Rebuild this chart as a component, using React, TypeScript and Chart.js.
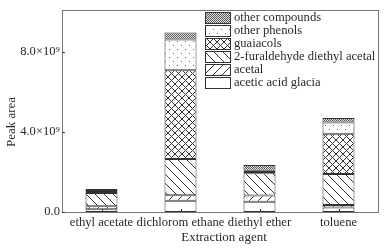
import React, { useEffect, useRef } from "react";
import { Chart, registerables } from "chart.js";

Chart.register(...registerables);

const categories = ["ethyl acetate", "dichlorom ethane", "diethyl ether", "toluene"];
const seriesNames = [
  "acetic acid glacia",
  "acetal",
  "2-furaldehyde diethyl acetal",
  "guaiacols",
  "other phenols",
  "other compounds",
];
// values in units of 1e9 peak area
const aceticAcid = [0.14, 0.56, 0.51, 0.23];
const acetal = [0.15, 0.28, 0.31, 0.12];
const furaldehyde = [0.66, 1.8, 1.11, 1.54];
const guaiacols = [0.05, 4.43, 0.06, 2.01];
const otherPhenols = [0.05, 1.54, 0.07, 0.57];
const otherCompounds = [0.1, 0.35, 0.29, 0.22];
const yTicks = [0, 4, 8];
const yMax = 10.1;

const FONT = "'Liberation Serif', 'Times New Roman', serif";
const INK = "#2a2a2a";

function makePattern(kind: string): CanvasPattern | string {
  const c = document.createElement("canvas");
  const ctx = c.getContext("2d")!;
  if (kind === "plain") return "#ffffff";
  if (kind === "fwd" || kind === "back" || kind === "cross") {
    const s = kind === "cross" ? 7 : 9;
    c.width = s;
    c.height = s;
    ctx.fillStyle = "#fff";
    ctx.fillRect(0, 0, s, s);
    ctx.strokeStyle = "#333";
    ctx.lineWidth = 1;
    const drawFwd = () => {
      ctx.beginPath();
      ctx.moveTo(-1, s + 1);
      ctx.lineTo(s + 1, -1);
      ctx.moveTo(-1, 1);
      ctx.lineTo(1, -1);
      ctx.moveTo(s - 1, s + 1);
      ctx.lineTo(s + 1, s - 1);
      ctx.stroke();
    };
    const drawBack = () => {
      ctx.beginPath();
      ctx.moveTo(-1, -1);
      ctx.lineTo(s + 1, s + 1);
      ctx.moveTo(s - 1, -1);
      ctx.lineTo(s + 1, 1);
      ctx.moveTo(-1, s - 1);
      ctx.lineTo(1, s + 1);
      ctx.stroke();
    };
    if (kind === "fwd" || kind === "cross") drawFwd();
    if (kind === "back" || kind === "cross") drawBack();
  } else if (kind === "dots") {
    c.width = 8;
    c.height = 8;
    ctx.fillStyle = "#fff";
    ctx.fillRect(0, 0, 8, 8);
    ctx.fillStyle = "#666";
    ctx.fillRect(1, 1, 1, 1);
    ctx.fillRect(5, 5, 1, 1);
  } else if (kind === "dense") {
    c.width = 2;
    c.height = 2;
    ctx.fillStyle = "#e4e4e4";
    ctx.fillRect(0, 0, 2, 2);
    ctx.fillStyle = "#555";
    ctx.fillRect(0, 0, 1, 1);
    ctx.fillRect(1, 1, 1, 1);
  }
  return ctx.createPattern(c, "repeat")!;
}

export default function App() {
  const ref = useRef<HTMLCanvasElement>(null);

  useEffect(() => {
    const kinds = ["plain", "fwd", "back", "cross", "dots", "dense"];
    const patterns = kinds.map(makePattern);
    const values = [aceticAcid, acetal, furaldehyde, guaiacols, otherPhenols, otherCompounds];

    const framePlugin = {
      id: "framePlugin",
      afterDatasetsDraw(chart: any) {
        const { ctx, chartArea } = chart;
        const { left, right, top, bottom } = chartArea;
        const xs = chart.scales.x;
        const ys = chart.scales.y;
        ctx.save();
        ctx.strokeStyle = "#777";
        ctx.lineWidth = 1;
        ctx.strokeRect(Math.round(left) + 0.5, Math.round(top) + 0.5, Math.round(right - left), Math.round(bottom - top));
        ctx.strokeStyle = "#333";
        ctx.beginPath();
        yTicks.forEach((t) => {
          const y = Math.round(ys.getPixelForValue(t)) + 0.5;
          ctx.moveTo(left, y);
          ctx.lineTo(left + 3, y);
        });
        categories.forEach((_, i) => {
          const x = Math.round(xs.getPixelForValue(i)) + 0.5;
          ctx.moveTo(x, bottom);
          ctx.lineTo(x, bottom - 3);
        });
        ctx.stroke();

        // axis titles
        ctx.fillStyle = INK;
        ctx.font = `13px ${FONT}`;
        ctx.textAlign = "center";
        ctx.textBaseline = "middle";
        ctx.fillText("Extraction agent", (left + right) / 2 + 4, 238);
        ctx.save();
        ctx.translate(12, 122);
        ctx.rotate(-Math.PI / 2);
        ctx.fillText("Peak area", 0, 0);
        ctx.restore();

        // legend
        ctx.font = `12.6px ${FONT}`;
        ctx.textAlign = "left";
        const order = [5, 4, 3, 2, 1, 0];
        order.forEach((di, row) => {
          const y = 12 + row * 13;
          ctx.fillStyle = patterns[di] as any;
          ctx.fillRect(205, y, 25, 11);
          ctx.strokeStyle = "#333";
          ctx.strokeRect(205.5, y + 0.5, 25, 11);
          ctx.fillStyle = INK;
          ctx.fillText(seriesNames[di], 234, y + 6);
        });
        ctx.restore();
      },
    };

    const chart = new Chart(ref.current!, {
      type: "bar",
      data: {
        labels: categories,
        datasets: values.map((v, i) => ({
          label: seriesNames[i],
          data: v,
          backgroundColor: patterns[i] as any,
          borderColor: "#333",
          borderWidth: 1,
          borderSkipped: false,
          categoryPercentage: 1,
          barPercentage: 0.405,
        })),
      },
      options: {
        animation: false,
        responsive: true,
        maintainAspectRatio: false,
        layout: { padding: { top: 3, right: 8, bottom: 0, left: 0 } },
        plugins: { legend: { display: false }, tooltip: { enabled: false } },
        scales: {
          x: {
            stacked: true,
            grid: { display: false, drawTicks: false },
            border: { display: false },
            ticks: {
              color: INK,
              font: { family: FONT, size: 12.6 },
              padding: 3,
              minRotation: 0,
              maxRotation: 0,
              autoSkip: false,
            },
            afterFit: (s: any) => {
              s.height = 38;
            },
          },
          y: {
            stacked: true,
            min: 0,
            max: yMax,
            grid: { display: false, drawTicks: false },
            border: { display: false },
            afterBuildTicks: (s: any) => {
              s.ticks = yTicks.map((v) => ({ value: v }));
            },
            ticks: {
              color: INK,
              font: { family: FONT, size: 12.6 },
              padding: 2,
              callback: (v: any) => (v === 0 ? "0.0" : `${Number(v).toFixed(1)}×10⁹`),
            },
            afterFit: (s: any) => {
              s.width = 62;
            },
          },
        },
      },
      plugins: [framePlugin],
    });
    return () => chart.destroy();
  }, []);

  return (
    <div style={{ position: "fixed", left: 0, top: 0, width: 386, height: 250, background: "#fff" }}>
      <canvas ref={ref} />
    </div>
  );
}
